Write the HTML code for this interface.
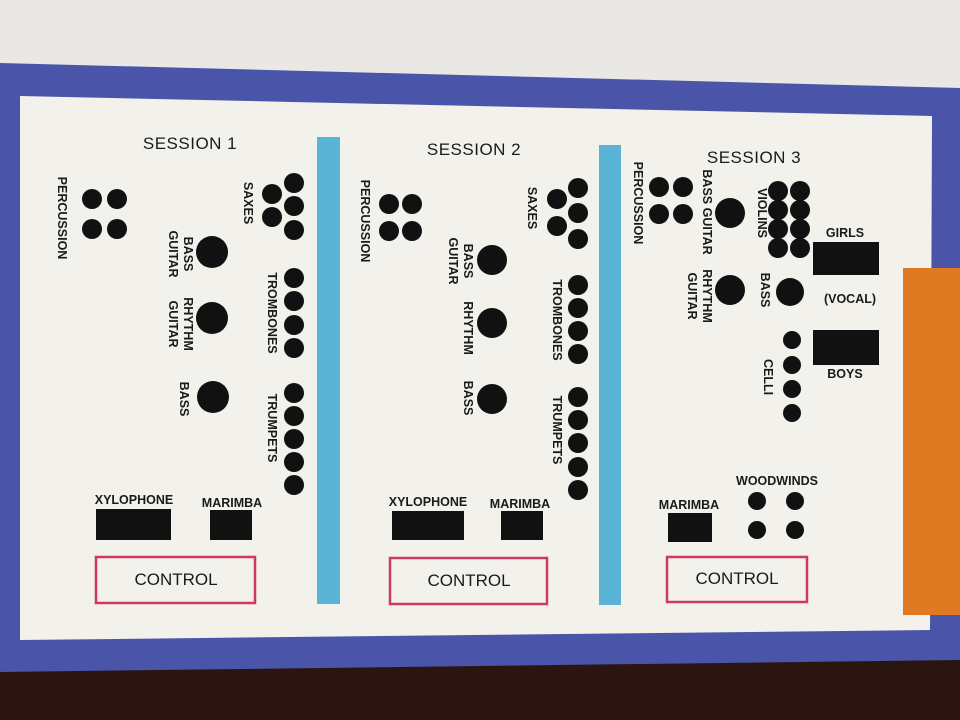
<!DOCTYPE html>
<html><head><meta charset="utf-8"><style>
html,body{margin:0;padding:0;width:960px;height:720px;overflow:hidden;background:#e9e8e4}
svg{display:block}
text{font-family:"Liberation Sans",sans-serif;fill:#1a1a1a}
.t{font-size:17px;letter-spacing:0.5px}
.s{font-size:12.5px;font-weight:bold}
.c{font-size:17px}
</style></head><body>
<svg width="960" height="720" viewBox="0 0 960 720" xmlns="http://www.w3.org/2000/svg">
<rect x="0" y="0" width="960" height="720" fill="#e9e8e4"/>
<rect x="0" y="660" width="960" height="60" fill="#2a1510"/>
<polygon points="0,63 960,88 960,660 0,672" fill="#4a54a8"/>
<polygon points="20,96 932,116 930,630 20,640" fill="#f2f1ec"/>
<rect x="903" y="268" width="57" height="347" fill="#e07a22"/>
<rect x="317" y="137" width="23" height="467" fill="#5ab4d6"/>
<rect x="599" y="145" width="22" height="460" fill="#5ab4d6"/>
<g fill="#111">
<circle cx="92" cy="199" r="10"/><circle cx="117" cy="199" r="10"/><circle cx="92" cy="229" r="10"/><circle cx="117" cy="229" r="10"/>
<circle cx="294" cy="183" r="10"/><circle cx="272" cy="194" r="10"/><circle cx="294" cy="206" r="10"/><circle cx="272" cy="217" r="10"/><circle cx="294" cy="230" r="10"/>
<circle cx="212" cy="252" r="16"/><circle cx="212" cy="318" r="16"/><circle cx="213" cy="397" r="16"/>
<circle cx="294" cy="278" r="10"/><circle cx="294" cy="301" r="10"/><circle cx="294" cy="325" r="10"/><circle cx="294" cy="348" r="10"/>
<circle cx="294" cy="393" r="10"/><circle cx="294" cy="416" r="10"/><circle cx="294" cy="439" r="10"/><circle cx="294" cy="462" r="10"/><circle cx="294" cy="485" r="10"/>
<rect x="96" y="509" width="75" height="31"/><rect x="210" y="510" width="42" height="30"/>
<circle cx="389" cy="204" r="10"/><circle cx="412" cy="204" r="10"/><circle cx="389" cy="231" r="10"/><circle cx="412" cy="231" r="10"/>
<circle cx="578" cy="188" r="10"/><circle cx="557" cy="199" r="10"/><circle cx="578" cy="213" r="10"/><circle cx="557" cy="226" r="10"/><circle cx="578" cy="239" r="10"/>
<circle cx="492" cy="260" r="15"/><circle cx="492" cy="323" r="15"/><circle cx="492" cy="399" r="15"/>
<circle cx="578" cy="285" r="10"/><circle cx="578" cy="308" r="10"/><circle cx="578" cy="331" r="10"/><circle cx="578" cy="354" r="10"/>
<circle cx="578" cy="397" r="10"/><circle cx="578" cy="420" r="10"/><circle cx="578" cy="443" r="10"/><circle cx="578" cy="467" r="10"/><circle cx="578" cy="490" r="10"/>
<rect x="392" y="511" width="72" height="29"/><rect x="501" y="511" width="42" height="29"/>
<circle cx="659" cy="187" r="10"/><circle cx="683" cy="187" r="10"/><circle cx="659" cy="214" r="10"/><circle cx="683" cy="214" r="10"/>
<circle cx="730" cy="213" r="15"/><circle cx="730" cy="290" r="15"/>
<circle cx="778" cy="191" r="10"/><circle cx="800" cy="191" r="10"/><circle cx="778" cy="210" r="10"/><circle cx="800" cy="210" r="10"/>
<circle cx="778" cy="229" r="10"/><circle cx="800" cy="229" r="10"/><circle cx="778" cy="248" r="10"/><circle cx="800" cy="248" r="10"/>
<circle cx="790" cy="292" r="14"/>
<circle cx="792" cy="340" r="9"/><circle cx="792" cy="365" r="9"/><circle cx="792" cy="389" r="9"/><circle cx="792" cy="413" r="9"/>
<rect x="813" y="242" width="66" height="33"/><rect x="813" y="330" width="66" height="35"/>
<circle cx="757" cy="501" r="9"/><circle cx="795" cy="501" r="9"/><circle cx="757" cy="530" r="9"/><circle cx="795" cy="530" r="9"/>
<rect x="668" y="513" width="44" height="29"/>
</g>
<g fill="none" stroke="#cc3a5c" stroke-width="2.5">
<rect x="96" y="557" width="159" height="46"/>
<rect x="390" y="558" width="157" height="46"/>
<rect x="667" y="557" width="140" height="45"/>
</g>
<text class="t" x="190" y="149" text-anchor="middle">SESSION 1</text>
<text class="t" x="474" y="155" text-anchor="middle">SESSION 2</text>
<text class="t" x="754" y="163" text-anchor="middle">SESSION 3</text>
<text class="c" x="176" y="585" text-anchor="middle">CONTROL</text>
<text class="c" x="469" y="586" text-anchor="middle">CONTROL</text>
<text class="c" x="737" y="584" text-anchor="middle">CONTROL</text>
<g class="s">
<text class="s" x="134" y="504" text-anchor="middle">XYLOPHONE</text>
<text class="s" x="232" y="507" text-anchor="middle">MARIMBA</text>
<text class="s" x="428" y="506" text-anchor="middle">XYLOPHONE</text>
<text class="s" x="520" y="508" text-anchor="middle">MARIMBA</text>
<text class="s" x="689" y="509" text-anchor="middle">MARIMBA</text>
<text class="s" x="777" y="485" text-anchor="middle">WOODWINDS</text>
<text class="s" x="845" y="237" text-anchor="middle">GIRLS</text>
<text class="s" x="850" y="303" text-anchor="middle">(VOCAL)</text>
<text class="s" x="845" y="378" text-anchor="middle">BOYS</text>
<text class="s" transform="translate(58,218) rotate(90)" text-anchor="middle">PERCUSSION</text>
<text class="s" transform="translate(244,203) rotate(90)" text-anchor="middle">SAXES</text>
<text class="s" transform="translate(184,254) rotate(90)" text-anchor="middle">BASS</text>
<text class="s" transform="translate(169,254) rotate(90)" text-anchor="middle">GUITAR</text>
<text class="s" transform="translate(184,324) rotate(90)" text-anchor="middle">RHYTHM</text>
<text class="s" transform="translate(169,324) rotate(90)" text-anchor="middle">GUITAR</text>
<text class="s" transform="translate(180,399) rotate(90)" text-anchor="middle">BASS</text>
<text class="s" transform="translate(268,313) rotate(90)" text-anchor="middle">TROMBONES</text>
<text class="s" transform="translate(268,428) rotate(90)" text-anchor="middle">TRUMPETS</text>
<text class="s" transform="translate(361,221) rotate(90)" text-anchor="middle">PERCUSSION</text>
<text class="s" transform="translate(528,208) rotate(90)" text-anchor="middle">SAXES</text>
<text class="s" transform="translate(464,261) rotate(90)" text-anchor="middle">BASS</text>
<text class="s" transform="translate(449,261) rotate(90)" text-anchor="middle">GUITAR</text>
<text class="s" transform="translate(464,328) rotate(90)" text-anchor="middle">RHYTHM</text>
<text class="s" transform="translate(464,398) rotate(90)" text-anchor="middle">BASS</text>
<text class="s" transform="translate(553,320) rotate(90)" text-anchor="middle">TROMBONES</text>
<text class="s" transform="translate(553,430) rotate(90)" text-anchor="middle">TRUMPETS</text>
<text class="s" transform="translate(634,203) rotate(90)" text-anchor="middle">PERCUSSION</text>
<text class="s" transform="translate(703,212) rotate(90)" text-anchor="middle">BASS GUITAR</text>
<text class="s" transform="translate(703,296) rotate(90)" text-anchor="middle">RHYTHM</text>
<text class="s" transform="translate(688,296) rotate(90)" text-anchor="middle">GUITAR</text>
<text class="s" transform="translate(758,213) rotate(90)" text-anchor="middle">VIOLINS</text>
<text class="s" transform="translate(761,290) rotate(90)" text-anchor="middle">BASS</text>
<text class="s" transform="translate(764,377) rotate(90)" text-anchor="middle">CELLI</text>
</g>
</svg>
</body></html>
